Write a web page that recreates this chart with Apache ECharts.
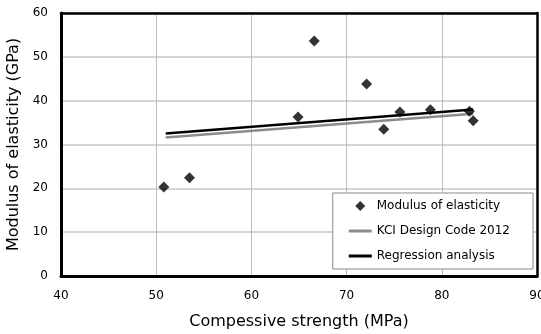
<!DOCTYPE html>
<html>
<head>
<meta charset="utf-8">
<script src="https://cdn.jsdelivr.net/npm/echarts@6/dist/echarts.min.js"></script>
<style>html,body{margin:0;padding:0;background:#fff}#c{width:541px;height:334px}</style>
</head>
<body>
<div id="c"></div>
<script>
// Measured data
var strength = [50.8, 53.5, 64.9, 66.6, 72.1, 73.9, 75.6, 78.8, 82.9, 83.3];
var modulus  = [20.3, 22.4, 36.3, 53.6, 43.8, 33.5, 37.4, 37.9, 37.6, 35.4];
var lineX = [51.0, 83.3];
var kciY  = [31.6, 37.0];
var regY  = [32.5, 38.0];
var xTicks = [40, 50, 60, 70, 80, 90];
var yTicks = [0, 10, 20, 30, 40, 50, 60];
var seriesNames = ['Modulus of elasticity', 'KCI Design Code 2012', 'Regression analysis'];

function pairs(xs, ys) { return xs.map(function (x, i) { return [x, ys[i]]; }); }

var font = 'DejaVu Sans';
var xMin = xTicks[0], xMax = xTicks[xTicks.length - 1];
var yMin = yTicks[0], yMax = yTicks[yTicks.length - 1];
var diamondIcon = 'path://M0,0 M23,10 M11.5,0 L16.5,5 L11.5,10 L6.5,5 Z';
var lineIcon = 'path://M0,0 M23,10 M0,3.5 L23,3.5 L23,6.5 L0,6.5 Z';

var chart = echarts.init(document.getElementById('c'), null, {renderer: 'canvas'});
chart.setOption({
  animation: false,
  backgroundColor: '#fff',
  grid: {left: 61, right: 4, top: 13, bottom: 58, show: false, containLabel: false, outerBoundsMode: 'none'},
  xAxis: [{
    type: 'value', min: xMin, max: xMax, interval: 10,
    name: 'Compessive strength (MPa)', nameLocation: 'middle', nameGap: 38,
    nameTextStyle: {fontFamily: font, fontSize: 16, color: '#000'},
    axisLine: {show: true, onZero: false, lineStyle: {color: '#000', width: 3}},
    axisTick: {show: false},
    axisLabel: {fontFamily: font, fontSize: 12, color: '#000', margin: 14},
    splitLine: {show: true, lineStyle: {color: '#bdbdbd', width: 1}}
  }, {
    type: 'value', position: 'top', min: xMin, max: xMax, interval: 10, z: 3,
    axisLine: {show: true, onZero: false, lineStyle: {color: '#000', width: 2.5}},
    axisTick: {show: false}, axisLabel: {show: false}, splitLine: {show: false}
  }],
  yAxis: [{
    type: 'value', min: yMin, max: yMax, interval: 10,
    name: 'Modulus of elasticity (GPa)', nameLocation: 'middle', nameGap: 32,
    nameTextStyle: {fontFamily: font, fontSize: 16, color: '#000'},
    axisLine: {show: true, onZero: false, lineStyle: {color: '#000', width: 3}},
    axisTick: {show: false},
    axisLabel: {fontFamily: font, fontSize: 12, color: '#000', margin: 13},
    splitLine: {show: true, lineStyle: {color: '#c8c8c8', width: 1.5}}
  }, {
    type: 'value', position: 'right', min: yMin, max: yMax, interval: 10, z: 3,
    axisLine: {show: true, onZero: false, lineStyle: {color: '#000', width: 2.5}},
    axisTick: {show: false}, axisLabel: {show: false}, splitLine: {show: false}
  }],
  legend: {
    orient: 'vertical', right: 8, top: 193,
    backgroundColor: '#fff', borderColor: '#8a8a8a', borderWidth: 1,
    padding: [7, 23, 7, 16], itemGap: 13, itemWidth: 23, itemHeight: 10,
    textStyle: {fontFamily: font, fontSize: 12, color: '#000'},
    data: [
      {name: seriesNames[0], icon: diamondIcon},
      {name: seriesNames[1], icon: lineIcon},
      {name: seriesNames[2], icon: lineIcon}
    ]
  },
  series: [
    {name: seriesNames[0], type: 'scatter', symbol: 'diamond', symbolSize: 11,
     itemStyle: {color: '#000'}, data: pairs(strength, modulus), z: 5},
    {name: seriesNames[1], type: 'line', symbol: 'none', showSymbol: false,
     lineStyle: {color: '#8c8c8c', width: 2.5}, itemStyle: {color: '#8c8c8c'}, data: pairs(lineX, kciY), z: 3},
    {name: seriesNames[2], type: 'line', symbol: 'none', showSymbol: false,
     lineStyle: {color: '#000', width: 2.5}, itemStyle: {color: '#000'}, data: pairs(lineX, regY), z: 4}
  ]
});
</script>
</body>
</html>
